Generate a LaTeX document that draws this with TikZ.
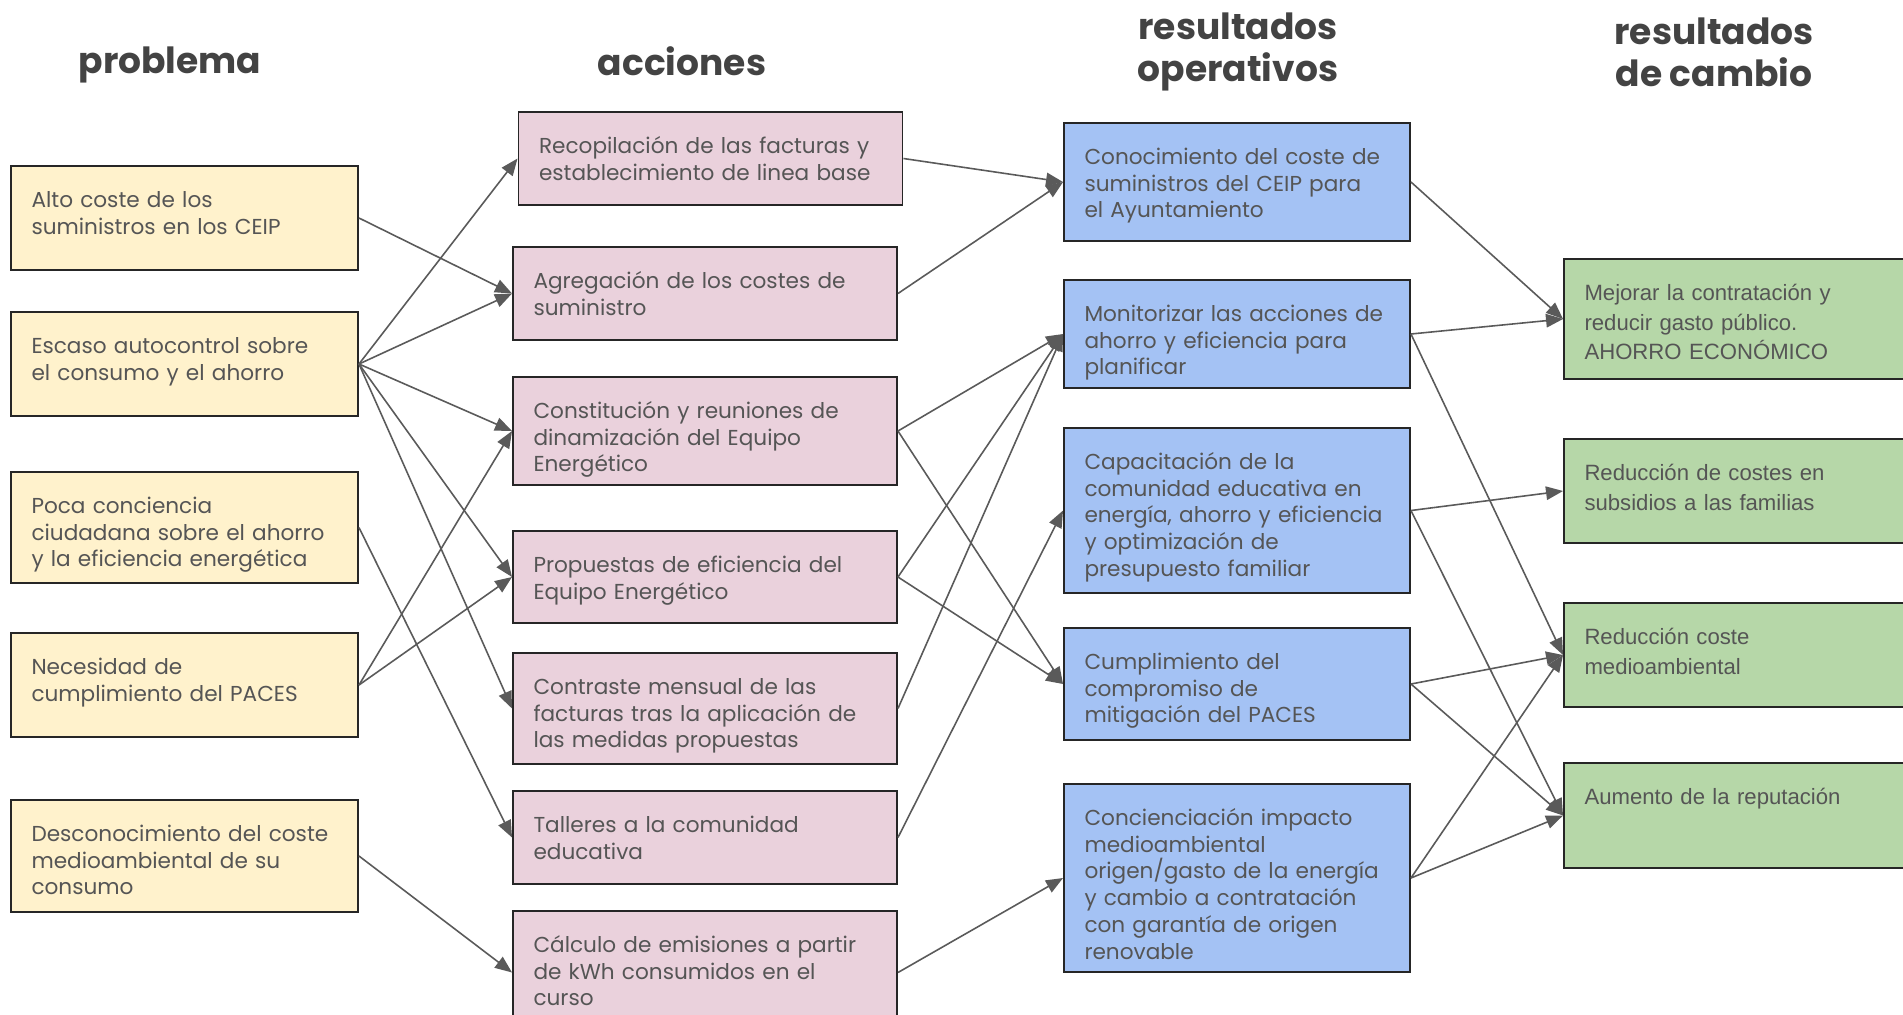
\documentclass[tikz,border=0pt]{standalone}
\usepackage{fontspec}
\setmainfont{Poppins}
\newfontfamily\arialfont{Liberation Sans}
\usepackage{tikz}
\usetikzlibrary{shapes,arrows.meta,positioning}
\definecolor{probfill}{HTML}{FFF2CC}
\definecolor{accfill}{HTML}{EAD1DC}
\definecolor{opfill}{HTML}{A4C2F4}
\definecolor{camfill}{HTML}{B6D7A8}
\definecolor{textgray}{HTML}{555555}
\definecolor{titlegray}{HTML}{434343}
\definecolor{linegray}{HTML}{5A5A5A}
\tikzstyle{block} = [rectangle, draw=black!85, line width=1.1pt, inner xsep=0.41cm,
    inner ysep=0pt, text height=0.83cm, align=left, text=textgray,
    font=\fontsize{12.3}{15.2}\selectfont]
\tikzstyle{problem} = [block, fill=probfill, text width=6.12cm, minimum width=6.94cm]
\tikzstyle{action} = [block, fill=accfill, text width=6.86cm, minimum width=7.68cm]
\tikzstyle{operative} = [block, fill=opfill, text width=6.10cm, minimum width=6.92cm]
\tikzstyle{change} = [block, fill=camfill, text width=6.30cm, minimum width=7.12cm,
    font=\arialfont\fontsize{12.6}{16.9}\selectfont]
\tikzstyle{title} = [align=center, text=titlegray, font=\bfseries\fontsize{20.5}{23.9}\selectfont]
\tikzstyle{line} = [draw=linegray, line width=0.9pt, -{Triangle[length=0.34cm,width=0.27cm]}]
% box height, text kept at the top
\tikzset{boxh/.style={minimum height=#1, text depth={#1-0.83cm}}}

\begin{document}
\begin{tikzpicture}
    \path [use as bounding box, fill=white] (0,0) rectangle (38.06,-20.28);
    % Titles
    \node [title] (tprob) at (3.40,-1.29) {problema};
    \node [title] (tacc) at (13.64,-1.22) {acciones};
    \node [title] (tope) at (24.76,-1.04) {resultados\\operativos};
    \node [title] (tcam) at (34.28,-1.04) {resultados\\de cambio};
    % Place nodes
    \node [problem, boxh=2.08cm] (alto) at (3.69,-4.36) {Alto coste de los\\suministros en los CEIP};
    \node [problem, below of=alto, node distance=2.92cm, boxh=2.08cm] (escaso) {Escaso autocontrol sobre\\el consumo y el ahorro};
    \node [problem, below of=escaso, node distance=3.27cm, boxh=2.22cm] (poca) {Poca conciencia\\ciudadana sobre el ahorro\\y la eficiencia energética};
    \node [problem, below of=poca, node distance=3.15cm, boxh=2.08cm] (necesidad) {Necesidad de\\cumplimiento del PACES};
    \node [problem, below of=necesidad, node distance=3.42cm, boxh=2.24cm] (desconoc) {Desconocimiento del coste\\medioambiental de su\\consumo};

    \node [action, boxh=1.86cm] (recop) at (14.21,-3.17) {Recopilación de las facturas y\\establecimiento de linea base};
    \node [action, below of=recop, node distance=2.70cm, xshift=-0.11cm, boxh=1.86cm] (agreg) {Agregación de los costes de\\suministro};
    \node [action, below of=agreg, node distance=2.75cm, boxh=2.16cm] (const) {Constitución y reuniones de\\dinamización del Equipo\\Energético};
    \node [action, below of=const, node distance=2.92cm, boxh=1.84cm] (propu) {Propuestas de eficiencia del\\Equipo Energético};
    \node [action, below of=propu, node distance=2.63cm, boxh=2.22cm] (contr) {Contraste mensual de las\\facturas tras la aplicación de\\las medidas propuestas};
    \node [action, below of=contr, node distance=2.58cm, boxh=1.86cm] (taller) {Talleres a la comunidad\\educativa};
    \node [action, below of=taller, node distance=2.70cm, boxh=2.46cm] (calculo) {Cálculo de emisiones a partir\\de kWh consumidos en el\\curso};

    \node [operative, boxh=2.36cm] (conoc) at (24.74,-3.64) {Conocimiento del coste de\\suministros del CEIP para\\el Ayuntamiento};
    \node [operative, below of=conoc, node distance=3.04cm, boxh=2.16cm] (monit) {Monitorizar las acciones de\\ahorro y eficiencia para\\planificar};
    \node [operative, below of=monit, node distance=3.53cm, boxh=3.30cm] (capac) {Capacitación de la\\comunidad educativa en\\energía, ahorro y eficiencia\\y optimización de\\presupuesto familiar};
    \node [operative, below of=capac, node distance=3.47cm, boxh=2.24cm] (cumpl) {Cumplimiento del\\compromiso de\\mitigación del PACES};
    \node [operative, below of=cumpl, node distance=3.88cm, boxh=3.76cm] (concien) {Concienciación impacto\\medioambiental\\origen/gasto de la energía\\y cambio a contratación\\con garantía de origen\\renovable};

    \node [change, boxh=2.40cm] (mejorar) at (34.84,-6.38) {Mejorar la contratación y\\reducir gasto público.\\AHORRO ECONÓMICO};
    \node [change, below of=mejorar, node distance=3.44cm, boxh=2.08cm] (redfam) {Reducción de costes en\\subsidios a las familias};
    \node [change, below of=redfam, node distance=3.28cm, boxh=2.08cm] (redmed) {Reducción coste\\medioambiental};
    \node [change, below of=redmed, node distance=3.21cm, boxh=2.10cm] (aumento) {Aumento de la reputación};
    % Draw edges
    \path [line] (alto.east) -- (agreg.west);
    \path [line] (escaso.east) -- (recop.west);
    \path [line] (escaso.east) -- (agreg.west);
    \path [line] (escaso.east) -- (const.west);
    \path [line] (escaso.east) -- (propu.west);
    \path [line] (escaso.east) -- (contr.west);
    \path [line] (poca.east) -- (taller.west);
    \path [line] (necesidad.east) -- (const.west);
    \path [line] (necesidad.east) -- (propu.west);
    \path [line] (desconoc.east) -- (calculo.west);

    \path [line] (recop.east) -- (conoc.west);
    \path [line] (agreg.east) -- (conoc.west);
    \path [line] (const.east) -- (monit.west);
    \path [line] (const.east) -- (cumpl.west);
    \path [line] (propu.east) -- (monit.west);
    \path [line] (propu.east) -- (cumpl.west);
    \path [line] (contr.east) -- (monit.west);
    \path [line] (taller.east) -- (capac.west);
    \path [line] (calculo.east) -- (concien.west);

    \path [line] (conoc.east) -- (mejorar.west);
    \path [line] (monit.east) -- (mejorar.west);
    \path [line] (monit.east) -- (redmed.west);
    \path [line] (capac.east) -- (redfam.west);
    \path [line] (capac.east) -- (aumento.west);
    \path [line] (cumpl.east) -- (redmed.west);
    \path [line] (cumpl.east) -- (aumento.west);
    \path [line] (concien.east) -- (redmed.west);
    \path [line] (concien.east) -- (aumento.west);
\end{tikzpicture}
\end{document}
